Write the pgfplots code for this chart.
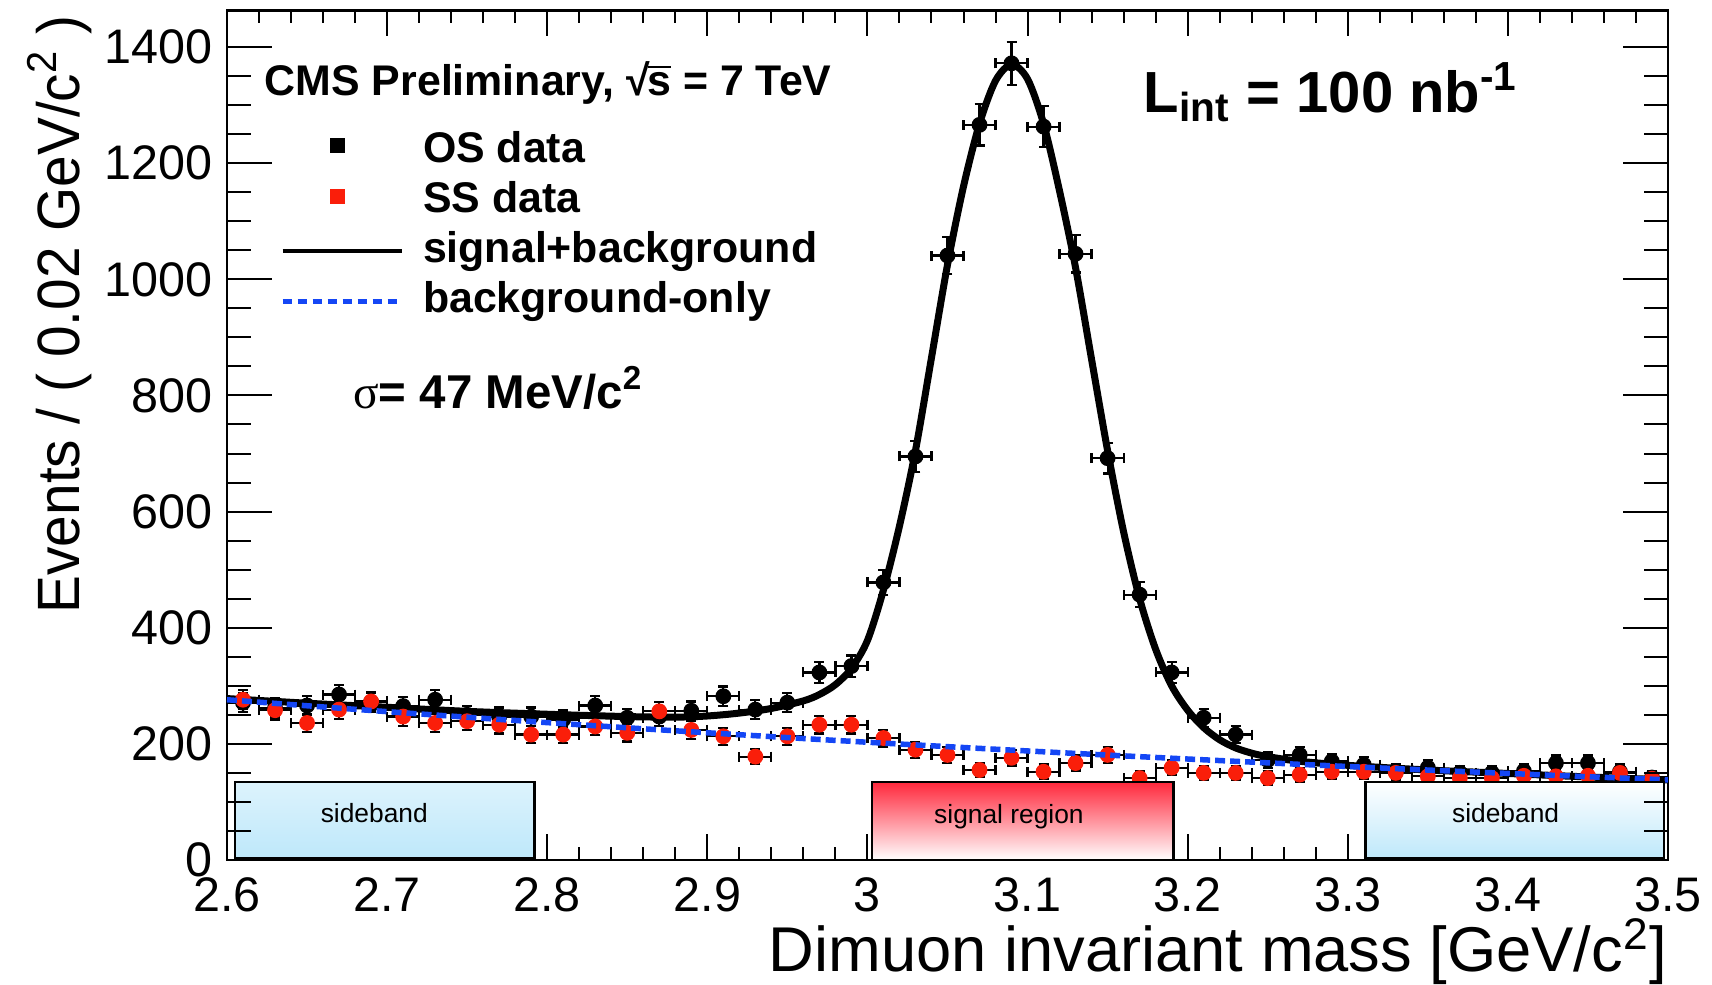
\documentclass[border=0pt]{standalone}
\usepackage{fontspec}
\setmainfont{Liberation Sans}
\newfontfamily\greekserif{Liberation Serif}
\usepackage{graphicx}
\usepackage{pgfplots}
\usepackage{pgfplotstable}
\pgfplotsset{compat=1.18}

\definecolor{ssred}{RGB}{250,30,10}
\definecolor{bkgblue}{RGB}{20,70,245}
\definecolor{sbcyan}{RGB}{190,232,250}
\definecolor{sigred}{RGB}{255,40,60}

\pgfplotstableread{
x y ey
2.61 271 16.5
2.63 262 16.2
2.65 266 16.3
2.67 285 16.9
2.69 272 16.5
2.71 265 16.3
2.73 276 16.6
2.75 250 15.8
2.77 247 15.7
2.79 247 15.7
2.81 242 15.6
2.83 266 16.3
2.85 245 15.7
2.87 247 15.7
2.89 257 16.0
2.91 282 16.8
2.93 259 16.1
2.95 271 16.5
2.97 323 18.0
2.99 334 18.3
3.01 478 21.9
3.03 695 26.4
3.05 1041 32.3
3.07 1266 35.6
3.09 1372 37.0
3.11 1263 35.5
3.13 1044 32.3
3.15 692 26.3
3.17 457 21.4
3.19 323 18.0
3.21 245 15.7
3.23 216 14.7
3.25 172 13.1
3.27 181 13.5
3.29 170 13.0
3.31 164 12.8
3.33 152 12.3
3.35 159 12.6
3.37 150 12.2
3.39 150 12.2
3.41 153 12.4
3.43 167 12.9
3.45 167 12.9
3.47 152 12.3
3.49 142 11.9
}\osdata

\pgfplotstableread{
x y ey
2.61 276 16.6
2.63 258 16.1
2.65 236 15.4
2.67 259 16.1
2.69 273 16.5
2.71 247 15.7
2.73 236 15.4
2.75 239 15.5
2.77 233 15.3
2.79 216 14.7
2.81 216 14.7
2.83 230 15.2
2.85 219 14.8
2.87 256 16.0
2.89 224 15.0
2.91 213 14.6
2.93 178 13.3
2.95 213 14.6
2.97 233 15.3
2.99 233 15.3
3.01 210 14.5
3.03 190 13.8
3.05 181 13.5
3.07 155 12.4
3.09 176 13.3
3.11 152 12.3
3.13 167 12.9
3.15 181 13.5
3.17 141 11.9
3.19 159 12.6
3.21 150 12.2
3.23 150 12.2
3.25 141 11.9
3.27 147 12.1
3.29 152 12.3
3.31 152 12.3
3.33 150 12.2
3.35 144 12.0
3.37 141 11.9
3.39 141 11.9
3.41 145 12.0
3.43 144 12.0
3.45 145 12.0
3.47 150 12.2
3.49 140 11.8
}\ssdata

\pgfplotstableread{
x y
2.60 278
2.65 270
2.70 263
2.75 256
2.80 251
2.85 247
2.88 246
2.90 248
2.92 253
2.94 261
2.96 274
2.97 285
2.98 302
2.99 330
3.00 378
3.01 465
3.02 575
3.03 705
3.04 865
3.05 1025
3.06 1160
3.07 1268
3.08 1342
3.09 1370
3.10 1345
3.11 1268
3.12 1152
3.13 1020
3.14 862
3.15 705
3.16 565
3.17 450
3.18 363
3.19 300
3.20 258
3.21 228
3.22 207
3.23 193
3.24 184
3.25 178
3.27 170
3.30 163
3.35 155
3.40 149
3.45 143
3.50 138
}\sbcurve

\pgfplotstableread{
x y
2.60 276.0
2.65 265.6
2.70 255.5
2.75 245.9
2.80 236.6
2.85 227.7
2.90 219.1
2.95 210.8
3.00 202.8
3.05 195.2
3.10 187.8
3.15 180.7
3.20 173.9
3.25 167.3
3.30 161.0
3.35 154.9
3.40 149.1
3.45 143.4
3.50 138.0
}\bcurve

\begin{document}
\begin{tikzpicture}
\begin{axis}[
  name=ax, at={(0,0)}, anchor=south west,
  scale only axis, width=144.1mm, height=84.95mm,
  xmin=2.6, xmax=3.5, ymin=0, ymax=1463,
  clip mode=individual,
  axis line style={line width=0.22mm},
  tick align=inside,
  tick style={line width=0.2mm, black},
  major tick length=2.6mm, minor tick length=1.3mm,
  xtick={2.6,2.7,2.8,2.9,3.0,3.1,3.2,3.3,3.4,3.5},
  xticklabels={2.6,2.7,2.8,2.9,3,3.1,3.2,3.3,3.4,3.5},
  minor x tick num=4,
  ytick=\empty,
  xticklabel style={font=\fontsize{13.8}{16}\selectfont, inner sep=0pt, yshift=-1.7mm},
  xlabel={Dimuon invariant mass [GeV/c\textsuperscript{2}]},
  xlabel style={font=\fontsize{18}{21}\selectfont, at={(axis description cs:1,-0.1315)}, anchor=base east, inner sep=0pt},
  ylabel={\scalebox{0.95}[1]{Events / ( 0.02 GeV/c\textsuperscript{2} )}},
  ylabel style={font=\fontsize{17}{20}\selectfont, at={(axis description cs:-0.1027,0.2896)}, anchor=base west, inner sep=0pt},
  legend style={at={(axis description cs:0.0368,0.8584)}, anchor=north west, draw=none, fill=none,
    inner sep=0pt, outer sep=0pt, row sep=0.8mm, column sep=1.9mm,
    font=\bfseries\fontsize{12.2}{14}\selectfont,
    nodes={inner sep=0pt, text height=3.2mm, text depth=1.0mm}},
  legend cell align=left,
]
\addplot[forget plot, only marks, mark=*, mark size=0.72mm, black, mark options={fill=black},
  error bars/.cd, x dir=both, x fixed=0.01, y dir=both, y explicit,
  error bar style={line width=0.22mm, black},
  error mark options={rotate=90, line width=0.22mm, mark size=0.5mm}]
  table[x=x, y=y, y error=ey] {\osdata};
\addplot[forget plot, black, line width=0.7mm, smooth] table[x=x, y=y] {\sbcurve};
\addplot[forget plot, only marks, mark=*, mark size=0.72mm, ssred, mark options={fill=ssred},
  error bars/.cd, x dir=both, x fixed=0.01, y dir=both, y explicit,
  error bar style={line width=0.22mm, black},
  error mark options={rotate=90, line width=0.22mm, mark size=0.5mm, black}]
  table[x=x, y=y, y error=ey] {\ssdata};
\addplot[forget plot, bkgblue, line width=0.55mm, dash pattern=on 1.0mm off 0.5mm, smooth] table[x=x, y=y] {\bcurve};

\addlegendimage{legend image code/.code={\path[draw=none, fill=none] (0mm,0mm) rectangle (11.9mm,0.1mm); \fill[black, draw=none] (5.45mm,0.6mm) +(-0.75mm,-0.75mm) rectangle +(0.75mm,0.75mm);}}
\addlegendentry{OS data}
\addlegendimage{legend image code/.code={\path[draw=none, fill=none] (0mm,0mm) rectangle (11.9mm,0.1mm); \fill[ssred, draw=none] (5.45mm,0.55mm) +(-0.75mm,-0.75mm) rectangle +(0.75mm,0.75mm);}}
\addlegendentry{SS data}
\addlegendimage{legend image code/.code={\draw[black, line width=0.4mm] (0mm,0.1mm) -- (11.9mm,0.1mm);}}
\addlegendentry{signal+background}
\addlegendimage{legend image code/.code={\draw[bkgblue, line width=0.5mm, dash pattern=on 0.9mm off 0.6mm] (0mm,0.05mm) -- (11.9mm,0.05mm);}}
\addlegendentry{background-only}

% region boxes
\path[draw=black, line width=0.25mm, top color=white, bottom color=sbcyan]
  (axis cs:2.605,3.5) rectangle (axis cs:2.792,134.6);
\path[draw=black, line width=0.25mm, top color=sigred, bottom color=white]
  (axis cs:3.003,0) rectangle (axis cs:3.191,134.6);
\path[draw=black, line width=0.25mm, top color=white, bottom color=sbcyan]
  (axis cs:3.311,3.5) rectangle (axis cs:3.4976,134.6);
\node[font=\fontsize{7.5}{9}\selectfont, inner sep=0pt] at (axis cs:2.692,81) {sideband};
\node[font=\fontsize{7.5}{9}\selectfont, inner sep=0pt] at (axis cs:3.0884,74.7) {signal region};
\node[font=\fontsize{7.5}{9}\selectfont, inner sep=0pt] at (axis cs:3.3986,81) {sideband};

% texts
\node[anchor=base west, inner sep=0pt, font=\bfseries\fontsize{12.2}{14}\selectfont]
  at (axis description cs:0.0257,0.9005) {CMS Preliminary, √\kern-0.05em$\overline{\mbox{s}}$ = 7 TeV};
\node[anchor=base west, inner sep=0pt, font=\bfseries\fontsize{16.5}{20}\selectfont]
  at (axis description cs:0.6357,0.88) {L\textsubscript{int} = 100 nb\textsuperscript{-1}};
\node[anchor=base west, inner sep=0pt, font=\bfseries\fontsize{13.5}{16}\selectfont]
  at (axis description cs:0.0872,0.5317) {{\greekserif\mdseries σ}= 47 MeV/c\textsuperscript{2}};
\end{axis}

\begin{axis}[
  at={(0,0)}, anchor=south west,
  scale only axis, width=144.1mm, height=84.95mm,
  xmin=2.6, xmax=3.5, ymin=0, ymax=1463,
  axis line style={draw=none},
  xtick=\empty,
  ytick={0,200,400,600,800,1000,1200,1400},
  yticklabels={0,200,400,600,800,1000,1200,1400},
  minor y tick num=3,
  tick align=inside,
  tick style={line width=0.2mm, black},
  major tick length=4.5mm, minor tick length=2.4mm,
  yticklabel style={font=\fontsize{13.8}{16}\selectfont, inner sep=0pt, xshift=-1.4mm},
]
\end{axis}
\pgfresetboundingbox
\path (ax.south west) ++(-22.7mm,-12.5mm) rectangle ++(171.2mm,98.5mm);
\end{tikzpicture}
\end{document}
